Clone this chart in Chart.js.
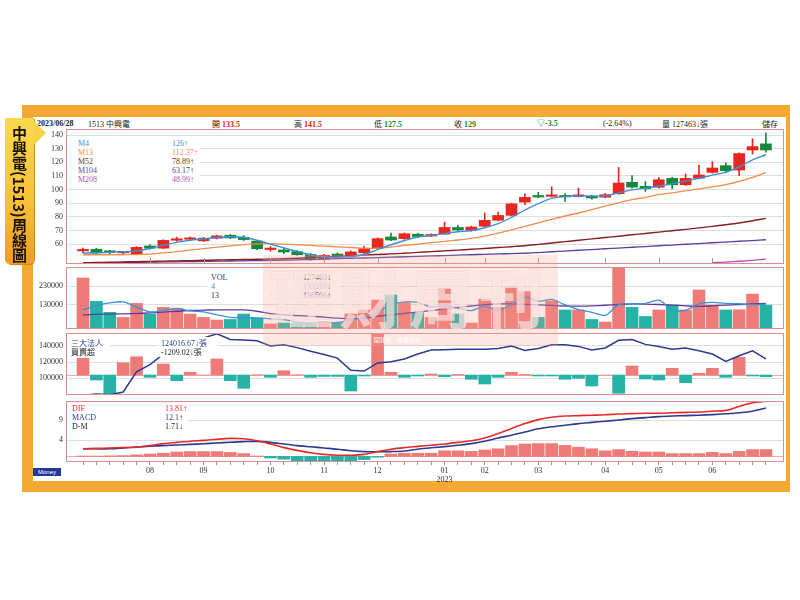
<!DOCTYPE html>
<html>
<head>
<meta charset="utf-8">
<title>中興電(1513)周線圖</title>
<script src="https://cdn.jsdelivr.net/npm/chart.js@4.4.0/dist/chart.umd.min.js"></script>
<style>
  html, body { margin: 0; padding: 0; background: #fff; }
  #page { position: relative; width: 800px; height: 600px; overflow: hidden; font-family: "Liberation Serif", "Noto Sans CJK TC", serif; }
  #frame { position: absolute; left: 22px; top: 105px; width: 768px; height: 387px; background: #F5A935; }
  #inner { position: absolute; left: 33px; top: 117px; width: 753px; height: 364px; background: #fff; }
  canvas { position: absolute; left: 33px; }
  .t { position: absolute; font-size: 8px; line-height: 9px; white-space: nowrap; color: #222; }
  .cjk { font-family: "Noto Sans CJK TC", sans-serif; }
  .box { position: absolute; background: #fff; }
  #titleBox { position: absolute; left: 5px; top: 118px; width: 29px; height: 146px; border-radius: 0 0 5px 5px;
    background: linear-gradient(180deg, #FBD94E 0%, #F7C23A 55%, #EF9D22 100%); box-shadow: 1px 1px 0 #D8861C; }
  #titleBox span { position: absolute; left: 0; top: 8px; width: 29px; writing-mode: vertical-rl; text-orientation: mixed;
    font-family: "Noto Sans CJK TC", sans-serif; font-weight: 700; font-size: 15px; line-height: 29px; color: #1a1208; }
  #pointer { position: absolute; left: 34px; top: 121px; width: 0; height: 0; border-top: 12px solid transparent;
    border-bottom: 12px solid transparent; border-left: 12px solid #FAD24A; }
  #wm { position: absolute; left: 263px; top: 255px; width: 295px; height: 91px; background: rgba(242, 160, 140, 0.25); }
  #wm .big { position: absolute; left: 6px; top: 5px; font-family: "Noto Sans CJK TC", sans-serif; font-weight: 700;
    font-size: 64px; line-height: 70px; letter-spacing: 6px; color: rgba(255, 255, 255, 0.55); text-shadow: 0 0 2px rgba(230,120,110,0.35); }
  #wm .small { position: absolute; left: 110px; top: 80px; font-family: "Noto Sans CJK TC", sans-serif; font-size: 6px; color: rgba(255,255,255,0.9); }
  #money { position: absolute; left: 33px; top: 468px; width: 28px; height: 8px; background: #23379A; color: #fff;
    font-size: 6px; line-height: 8px; text-align: center; font-family: "Liberation Sans", sans-serif; }
</style>
</head>
<body>
<div id="page">
  <div id="frame"></div>
  <div id="inner"></div>

  <!-- header row -->
  <div class="t" style="left:37px;top:119px;font-weight:700;">2023/06/28</div>
  <div class="t" style="left:88px;top:119px;">1513 <span class="cjk">中興電</span></div>
  <div class="t" style="left:212px;top:119px;"><span class="cjk">開</span> <b style="color:#D42121">133.5</b></div>
  <div class="t" style="left:294px;top:119px;"><span class="cjk">高</span> <b style="color:#D42121">141.5</b></div>
  <div class="t" style="left:374px;top:119px;"><span class="cjk">低</span> <b style="color:#138A2F">127.5</b></div>
  <div class="t" style="left:454px;top:119px;"><span class="cjk">收</span> <b style="color:#138A2F">129</b></div>
  <div class="t" style="left:537px;top:119px;color:#138A2F;font-weight:700;">▽-3.5</div>
  <div class="t" style="left:603px;top:119px;">(-2.64%)</div>
  <div class="t" style="left:662px;top:119px;"><span class="cjk">量</span> 127463↓<span class="cjk">張</span></div>
  <div class="t cjk" style="left:762px;top:119px;">儲存</div>

  <canvas id="priceChart" width="753" height="136" style="top:129px"></canvas>
  <canvas id="volChart" width="753" height="63" style="top:267px"></canvas>
  <canvas id="instChart" width="753" height="63" style="top:333px"></canvas>
  <canvas id="macdChart" width="753" height="86" style="top:401px"></canvas>

  <!-- price legend -->
  <div class="box" style="left:68px;top:139px;width:132px;height:47px;"></div>
  <div class="t" style="left:78px;top:139px;color:#3E8FDA">M4</div>
  <div class="t" style="left:78px;top:148px;color:#F28D4B">M13</div>
  <div class="t" style="left:78px;top:157px;color:#851F24">M52</div>
  <div class="t" style="left:78px;top:166px;color:#5B3E9E">M104</div>
  <div class="t" style="left:78px;top:175px;color:#B04FB5">M208</div>
  <div class="t" style="left:172px;top:139px;color:#3E8FDA">126↑</div>
  <div class="t" style="left:172px;top:148px;color:#F28D4B">112.37↑</div>
  <div class="t" style="left:172px;top:157px;color:#851F24">78.89↑</div>
  <div class="t" style="left:172px;top:166px;color:#5B3E9E">63.17↑</div>
  <div class="t" style="left:172px;top:175px;color:#B04FB5">48.99↑</div>

  <!-- volume legend -->
  <div class="box" style="left:207px;top:272px;width:133px;height:28px;"></div>
  <div class="t" style="left:211px;top:273px;color:#2B3155">VOL</div>
  <div class="t" style="left:211px;top:282px;color:#3E8FDA">4</div>
  <div class="t" style="left:211px;top:291px;color:#2B3155">13</div>
  <div class="t" style="left:303px;top:273px;color:#2B3155">127463↓</div>
  <div class="t" style="left:303px;top:282px;color:#3E8FDA">133269↓</div>
  <div class="t" style="left:303px;top:291px;color:#5B3E9E">136506↑</div>

  <!-- institutional legend -->
  <div class="box" style="left:68px;top:337px;width:42px;height:20px;"></div>
  <div class="box" style="left:158px;top:337px;width:60px;height:20px;"></div>
  <div class="t cjk" style="left:71px;top:338px;color:#2C3A8F">三大法人</div>
  <div class="t cjk" style="left:71px;top:347px;color:#222">買賣超</div>
  <div class="t" style="left:161px;top:338px;color:#2C3A8F">124016.67↓<span class="cjk">張</span></div>
  <div class="t" style="left:161px;top:347px;color:#222">-1209.02↓<span class="cjk">張</span></div>

  <!-- macd legend -->
  <div class="box" style="left:68px;top:403px;width:120px;height:28px;"></div>
  <div class="t" style="left:72px;top:404px;color:#E52A2A">DIF</div>
  <div class="t" style="left:72px;top:413px;color:#2C3A8F">MACD</div>
  <div class="t" style="left:72px;top:422px;color:#222">D-M</div>
  <div class="t" style="left:165px;top:404px;color:#E52A2A">13.81↑</div>
  <div class="t" style="left:165px;top:413px;color:#2C3A8F">12.1↑</div>
  <div class="t" style="left:165px;top:422px;color:#222">1.71↓</div>

  <div id="wm"><div class="big">理財周刊</div><div class="small">理財網　版權所有</div></div>
  <div id="money">Money</div>

  <div id="titleBox"><span>中興電(1513)周線圖</span></div>
  <div id="pointer"></div>
</div>

<script>
// weekly bars, 2022/06/27 .. 2023/06/26 (lunar new year week missing)
const weeks = ['06/27','07/04','07/11','07/18','07/25','08/01','08/08','08/15','08/22','08/29','09/05','09/12','09/19',
  '09/26','10/03','10/10','10/17','10/24','10/31','11/07','11/14','11/21','11/28','12/05','12/12','12/19','12/26',
  '01/02','01/09','01/16','01/30','02/06','02/13','02/20','02/27','03/06','03/13','03/20','03/27','04/03','04/10',
  '04/17','04/24','05/01','05/08','05/15','05/22','05/29','06/05','06/12','06/19','06/26'];

const open = [55.0, 56.2, 54.2, 53.6, 52.7, 58.6, 57.0, 62.8, 63.5, 62.4, 64.3, 66.5, 65.0, 62.2, 56.0, 55.7, 54.5,
  52.4, 49.0, 52.7, 51.4, 53.6, 57.0, 65.2, 64.0, 67.2, 65.9, 67.3, 72.2, 70.0, 73.1, 77.5, 81.1, 90.8, 95.0, 95.0,
  95.6, 95.0, 95.2, 94.4, 97.0, 105.3, 102.4, 101.7, 108.2, 103.5, 108.3, 112.6, 117.5, 114.3, 129.0, 133.5];
const high = [57.0, 57.0, 55.5, 54.5, 58.2, 59.6, 63.2, 65.0, 65.3, 65.0, 66.6, 67.0, 66.2, 62.8, 58.2, 57.0, 55.3,
  53.2, 52.4, 53.5, 55.0, 58.5, 64.6, 68.0, 68.2, 68.0, 67.6, 76.2, 73.8, 73.2, 82.8, 83.5, 90.0, 96.9, 98.0, 102.0,
  97.0, 101.0, 96.0, 97.2, 116.2, 110.2, 105.8, 108.9, 109.0, 111.4, 118.0, 120.4, 119.5, 127.0, 137.3, 141.5];
const low = [53.5, 52.6, 52.8, 53.0, 52.3, 56.2, 56.6, 62.0, 62.8, 61.8, 63.8, 64.0, 62.6, 56.0, 54.8, 53.0, 51.8,
  48.2, 48.3, 50.5, 50.8, 53.0, 56.5, 62.5, 63.4, 65.0, 65.4, 67.0, 69.8, 69.4, 72.6, 77.0, 80.6, 89.0, 94.0, 94.5,
  91.3, 94.5, 93.0, 94.0, 96.5, 101.0, 98.5, 101.0, 100.5, 103.0, 107.8, 112.0, 113.0, 110.2, 126.0, 127.5];
const close = [55.2, 53.8, 54.0, 53.8, 57.6, 57.0, 62.7, 63.2, 63.7, 64.3, 66.0, 64.5, 63.3, 56.6, 56.8, 54.2, 52.2,
  49.0, 51.8, 51.0, 54.3, 56.8, 64.0, 63.0, 67.6, 65.6, 67.0, 72.2, 70.4, 72.5, 77.4, 81.0, 89.5, 94.3, 94.5, 96.0,
  94.6, 95.3, 93.8, 96.2, 104.8, 101.8, 100.6, 107.2, 103.5, 108.2, 110.7, 115.8, 113.8, 126.4, 131.5, 129.0];

const ma4 = [53.5, 53.5, 54.0, 54.3, 55.0, 56.8, 59.2, 61.3, 62.8, 63.8, 64.8, 65.4, 65.0, 62.8, 60.0, 57.2, 54.6,
  52.2, 50.7, 50.3, 50.9, 52.4, 56.0, 59.5, 62.6, 65.2, 66.3, 67.8, 69.0, 70.0, 72.0, 75.0, 79.5, 85.0, 89.6, 93.5,
  95.0, 95.3, 95.2, 95.4, 97.6, 99.8, 101.0, 102.6, 104.2, 106.2, 108.3, 110.6, 112.6, 116.6, 121.8, 125.5];
const ma13 = [52.2, 52.2, 52.2, 52.2, 52.3, 52.7, 53.5, 54.5, 55.6, 56.7, 57.7, 58.7, 59.6, 60.2, 60.3, 60.0, 59.5,
  59.0, 58.5, 58.0, 57.5, 57.0, 57.0, 57.8, 59.0, 60.0, 61.0, 62.0, 63.0, 64.2, 65.8, 68.0, 70.5, 73.0, 75.5, 78.2,
  80.6, 82.8, 85.2, 87.8, 90.3, 92.6, 94.3, 96.2, 97.6, 99.0, 100.5, 102.0, 103.6, 106.0, 109.0, 112.4];
const ma52 = [46.3, 46.5, 46.7, 46.9, 47.1, 47.3, 47.5, 47.7, 47.9, 48.1, 48.3, 48.5, 48.7, 48.9, 49.1, 49.3, 49.6,
  50.0, 50.5, 51.0, 51.4, 51.9, 52.4, 52.8, 53.3, 53.9, 54.5, 55.0, 55.6, 56.2, 56.8, 57.5, 58.1, 58.8, 59.8, 60.8,
  61.8, 62.8, 63.8, 64.8, 65.8, 66.8, 67.8, 68.8, 69.8, 70.8, 71.9, 73.0, 74.2, 75.5, 77.1, 78.9];
const ma104 = [46.0, 46.15, 46.3, 46.45, 46.6, 46.75, 46.9, 47.0, 47.15, 47.3, 47.45, 47.6, 47.75, 47.9, 48.05, 48.2,
  48.4, 48.7, 49.0, 49.3, 49.6, 49.8, 50.1, 50.4, 50.7, 51.0, 51.3, 51.6, 51.9, 52.2, 52.5, 52.8, 53.0, 53.3, 53.8,
  54.4, 54.9, 55.5, 56.0, 56.6, 57.1, 57.7, 58.2, 58.8, 59.3, 59.9, 60.4, 61.0, 61.5, 62.1, 62.6, 63.2];
// M208 sits below the visible range until the last weeks
const ma208 = [null, null, null, null, null, null, null, null, null, null, null, null, null, null, null, null, null,
  null, null, null, null, null, null, null, null, null, null, null, null, null, null, null, null, null, null, null,
  null, null, null, null, null, null, null, null, null, null, null, 46.3, 46.8, 47.4, 48.1, 49.0];

const volume = [273000, 148000, 89000, 62000, 137000, 80000, 116000, 110000, 80000, 62000, 48000, 51000, 80000,
  59000, 27000, 32000, 32000, 32000, 41000, 35000, 80000, 102000, 155000, 182000, 142000, 89000, 62000, 217000,
  80000, 32000, 160000, 116000, 219000, 200000, 62000, 151000, 102000, 102000, 51000, 37000, 328000, 116000, 67000,
  102000, 128000, 102000, 209000, 128000, 102000, 103000, 187000, 127463];
const volMa4 = [102000, 125000, 140000, 145000, 118000, 92000, 99000, 110000, 97000, 92000, 76000, 62000, 60000,
  60000, 54000, 50000, 38000, 31000, 34000, 35000, 47000, 65000, 93000, 130000, 145000, 142000, 118000, 127000,
  112000, 98000, 122000, 97000, 132000, 171000, 149000, 158000, 129000, 104000, 89000, 73000, 130000, 134000,
  137000, 154000, 103000, 100000, 135000, 142000, 137000, 135000, 130000, 133269];
const volMa13 = [76000, 78000, 80000, 81000, 83000, 86000, 90000, 95000, 99000, 101000, 102000, 102000, 102000,
  95000, 82000, 76000, 72000, 68000, 64000, 58000, 55000, 58000, 68000, 76000, 84000, 92000, 98000, 108000, 116000,
  123000, 130000, 134000, 134000, 132000, 129000, 126000, 123000, 122000, 124000, 127000, 131000, 134000, 133000,
  131000, 128000, 124000, 121000, 124000, 128000, 131000, 134000, 136506];

// 三大法人 holdings (line) and weekly net buy/sell 買賣超 (bars)
const instHold = [79000, 80500, 79500, 83000, 108000, 117000, 130000, 140000, 147000, 150000, 155000, 148000,
  147500, 146500, 140000, 141500, 138000, 133500, 129500, 125000, 110000, 109000, 119000, 120500, 124000, 130000,
  135000, 135500, 136000, 136000, 136000, 137000, 140000, 134500, 137000, 141500, 141500, 139500, 135000, 137500,
  147000, 148000, 142000, 139500, 136000, 137500, 134000, 130000, 121000, 128000, 134000, 124016.67];
const instNet = [11700, -3500, -14000, 8600, 12800, -1600, 7700, -4000, 1900, 0, 11200, -4000, -9300, 200, -1600,
  3000, 200, -1600, -1000, -1000, -11200, -700, 31000, 1900, -1600, -700, 700, -1200, 350, -3000, -6300, -1600,
  1900, 350, -700, -700, -3000, -2300, -7700, 0, -12800, 6300, -2800, -3500, 4700, -5400, 1200, 4700, -1600, 12400,
  -700, -1209.02];

const dif = [1.9, 2.0, 2.1, 2.2, 2.3, 2.7, 3.2, 3.5, 3.8, 4.0, 4.3, 4.5, 4.4, 3.9, 3.1, 2.2, 1.5, 0.9, 0.5, 0.3, 0.3,
  0.5, 1.2, 1.8, 2.2, 2.5, 2.8, 3.1, 3.5, 3.9, 4.6, 5.7, 7.0, 8.2, 9.2, 9.8, 10.1, 10.2, 10.3, 10.4, 10.6, 10.7,
  10.8, 10.8, 10.9, 11.0, 11.1, 11.3, 11.5, 12.5, 13.4, 13.81];
const macd = [1.9, 1.9, 1.9, 2.1, 2.35, 2.55, 2.7, 2.85, 3.0, 3.15, 3.35, 3.55, 3.7, 3.75, 3.5, 3.1, 2.7, 2.4, 2.1,
  1.8, 1.4, 1.2, 1.15, 1.2, 1.35, 1.8, 2.15, 2.45, 2.8, 3.2, 3.8, 4.6, 5.3, 6.1, 6.9, 7.4, 7.8, 8.2, 8.5, 8.8, 9.1,
  9.45, 9.7, 9.95, 10.1, 10.2, 10.3, 10.45, 10.65, 10.9, 11.3, 12.1];
const osc = [0.1, 0.1, 0.15, 0.2, 0.4, 0.6, 0.8, 1.1, 1.2, 1.2, 1.2, 1.0, 0.7, 0.1, -0.4, -0.7, -1.1, -1.4, -1.4,
  -1.4, -1.25, -0.8, -0.2, 0.6, 0.8, 0.8, 0.8, 1.4, 1.4, 1.25, 1.6, 1.9, 2.7, 3.1, 3.2, 3.2, 2.75, 2.3, 1.9, 1.4,
  1.7, 1.3, 1.1, 1.1, 0.7, 0.7, 0.7, 1.0, 0.7, 1.25, 1.7, 1.71];

const monthTickIdx = [5, 9, 14, 18, 22, 27, 30, 34, 39, 43, 47];
const monthTickLabels = ['08', '09', '10', '11', '12', '01', '02', '03', '04', '05', '06'];
const yearTickIdx = 27, yearLabel = '2023';

const priceTicks = [60, 70, 80, 90, 100, 110, 120, 130, 140];
const volTicks = [130000, 230000];
const instTicks = [100000, 120000, 140000];
const macdTicks = [4, 9];

// ---- styling ----
const X_MIN = -1.27, X_MAX = 52.35;
const UP = '#E6261F', DOWN = '#17873A';
const BAR_UP = '#EF7B78', BAR_DOWN = '#26B2A5';
const TICK_FONT = { family: 'Liberation Serif', size: 8 };

const isUp = close.map((c, i) => c >= open[i]);
const pts = arr => arr.map((v, i) => ({ x: i, y: v }));

const panelFrame = {
    id: 'panelFrame',
    beforeDatasetsDraw(chart, args, opts) {
        if (!opts.zeroAxis) return;
        const { ctx, chartArea: a } = chart;
        const y = Math.round(chart.scales[opts.zeroAxis].getPixelForValue(0)) + 0.5;
        ctx.save();
        ctx.strokeStyle = '#F2A9A9';
        ctx.lineWidth = 1;
        ctx.beginPath();
        ctx.moveTo(a.left, y);
        ctx.lineTo(a.right, y);
        ctx.stroke();
        ctx.restore();
    },
    afterDatasetsDraw(chart, args, opts) {
        const { ctx, chartArea: a } = chart;
        ctx.save();
        ctx.lineWidth = 1;
        if (opts.monthMarks) {
            ctx.strokeStyle = '#9a9a9a';
            monthTickIdx.forEach(i => {
                const x = Math.round(chart.scales.x.getPixelForValue(i)) + 0.5;
                ctx.beginPath();
                ctx.moveTo(x, a.bottom - 6);
                ctx.lineTo(x, a.bottom);
                ctx.stroke();
            });
        }
        ctx.strokeStyle = '#D98F8F';
        ctx.strokeRect(a.left + 0.5, a.top + 0.5, a.right - a.left - 1, a.bottom - a.top - 1);
        ctx.restore();
    }
};

const xHidden = { type: 'linear', min: X_MIN, max: X_MAX, display: false, offset: false, grid: { offset: false } };

function valueAxis(min, max, ticks) {
    return {
        type: 'linear', position: 'left', min, max,
        afterBuildTicks: s => { s.ticks = ticks.map(v => ({ value: v })); },
        afterFit: s => { s.width = 33; s.paddingTop = 0; s.paddingBottom = 0; },
        border: { display: false },
        grid: { color: '#DEDEDE', drawTicks: false },
        ticks: { color: '#333', padding: 3, font: TICK_FONT, callback: v => String(v) }
    };
}

function baseOptions(scales, frameOpts, padBottom) {
    return {
        responsive: false,
        animation: false,
        events: [],
        layout: { padding: { left: 0, right: 2, top: 0, bottom: padBottom } },
        plugins: { legend: { display: false }, tooltip: { enabled: false }, panelFrame: frameOpts },
        scales
    };
}

const line = (data, color, width) => ({
    type: 'line', data: pts(data), borderColor: color, borderWidth: width,
    pointRadius: 0, tension: 0.3, fill: false, order: 0
});

// price panel: candles + moving averages
new Chart(document.getElementById('priceChart'), {
    type: 'bar',
    data: {
        datasets: [
            line(ma4, '#3E8FDA', 1.4),
            line(ma13, '#F28D4B', 1.3),
            line(ma52, '#851F24', 1.4),
            line(ma104, '#5B3E9E', 1.3),
            line(ma208, '#B04FB5', 1.3),
            {
                type: 'bar', data: open.map((o, i) => ({ x: i, y: [o, close[i]] })),
                backgroundColor: isUp.map(u => u ? UP : DOWN),
                barThickness: 11, minBarLength: 1.5, grouped: false, order: 1
            },
            {
                type: 'bar', data: low.map((l, i) => ({ x: i, y: [l, high[i]] })),
                backgroundColor: isUp.map(u => u ? UP : DOWN),
                barThickness: 1, grouped: false, order: 2
            }
        ]
    },
    options: baseOptions({ x: xHidden, y: valueAxis(45.4, 144.4, priceTicks) }, { monthMarks: true }, 1),
    plugins: [panelFrame]
});

// volume panel
new Chart(document.getElementById('volChart'), {
    type: 'bar',
    data: {
        datasets: [
            line(volMa4, '#3E8FDA', 1.3),
            line(volMa13, '#5B3E9E', 1.3),
            {
                type: 'bar', data: pts(volume),
                backgroundColor: isUp.map(u => u ? BAR_UP : BAR_DOWN),
                barThickness: 12, grouped: false, order: 1
            }
        ]
    },
    options: baseOptions({ x: xHidden, y: valueAxis(0, 331700, volTicks) }, {}, 1),
    plugins: [panelFrame]
});

// institutional investors panel
new Chart(document.getElementById('instChart'), {
    type: 'bar',
    data: {
        datasets: [
            Object.assign(line(instHold, '#2C3A8F', 1.5), { yAxisID: 'y', tension: 0 }),
            {
                type: 'bar', data: pts(instNet), yAxisID: 'y2',
                backgroundColor: instNet.map(v => v >= 0 ? BAR_UP : BAR_DOWN),
                barThickness: 12, grouped: false, order: 1
            }
        ]
    },
    options: baseOptions({
        x: xHidden,
        y: valueAxis(79300, 156100, instTicks),
        y2: { type: 'linear', position: 'left', min: -14000, max: 29400, display: false }
    }, { zeroAxis: 'y2' }, 1),
    plugins: [panelFrame]
});

// MACD panel with the shared date axis
const macdX = {
    type: 'linear', min: X_MIN, max: X_MAX, offset: false,
    afterBuildTicks: s => { s.ticks = weeks.map((w, i) => ({ value: i })); },
    afterFit: s => { s.height = 25; s.paddingLeft = 0; s.paddingRight = 0; },
    border: { display: false },
    grid: { drawOnChartArea: false, drawTicks: true, tickLength: 3, color: '#999', offset: false },
    ticks: {
        autoSkip: false, maxRotation: 0, minRotation: 0, padding: 2, color: '#333',
        font: { family: 'Liberation Serif', size: 8, lineHeight: 1.1 },
        callback: v => {
            const k = monthTickIdx.indexOf(v);
            if (k < 0) return '';
            return v === yearTickIdx ? [monthTickLabels[k], yearLabel] : monthTickLabels[k];
        }
    }
};

new Chart(document.getElementById('macdChart'), {
    type: 'bar',
    data: {
        datasets: [
            line(dif, '#E52A2A', 1.6),
            line(macd, '#2C3A8F', 1.6),
            {
                type: 'bar', data: pts(osc),
                backgroundColor: osc.map(v => v >= 0 ? BAR_UP : BAR_DOWN),
                barThickness: 12, grouped: false, order: 1
            }
        ]
    },
    options: baseOptions({ x: macdX, y: valueAxis(-1.4, 13.85, macdTicks) }, { zeroAxis: 'y' }, 0),
    plugins: [panelFrame]
});
</script>
</body>
</html>
